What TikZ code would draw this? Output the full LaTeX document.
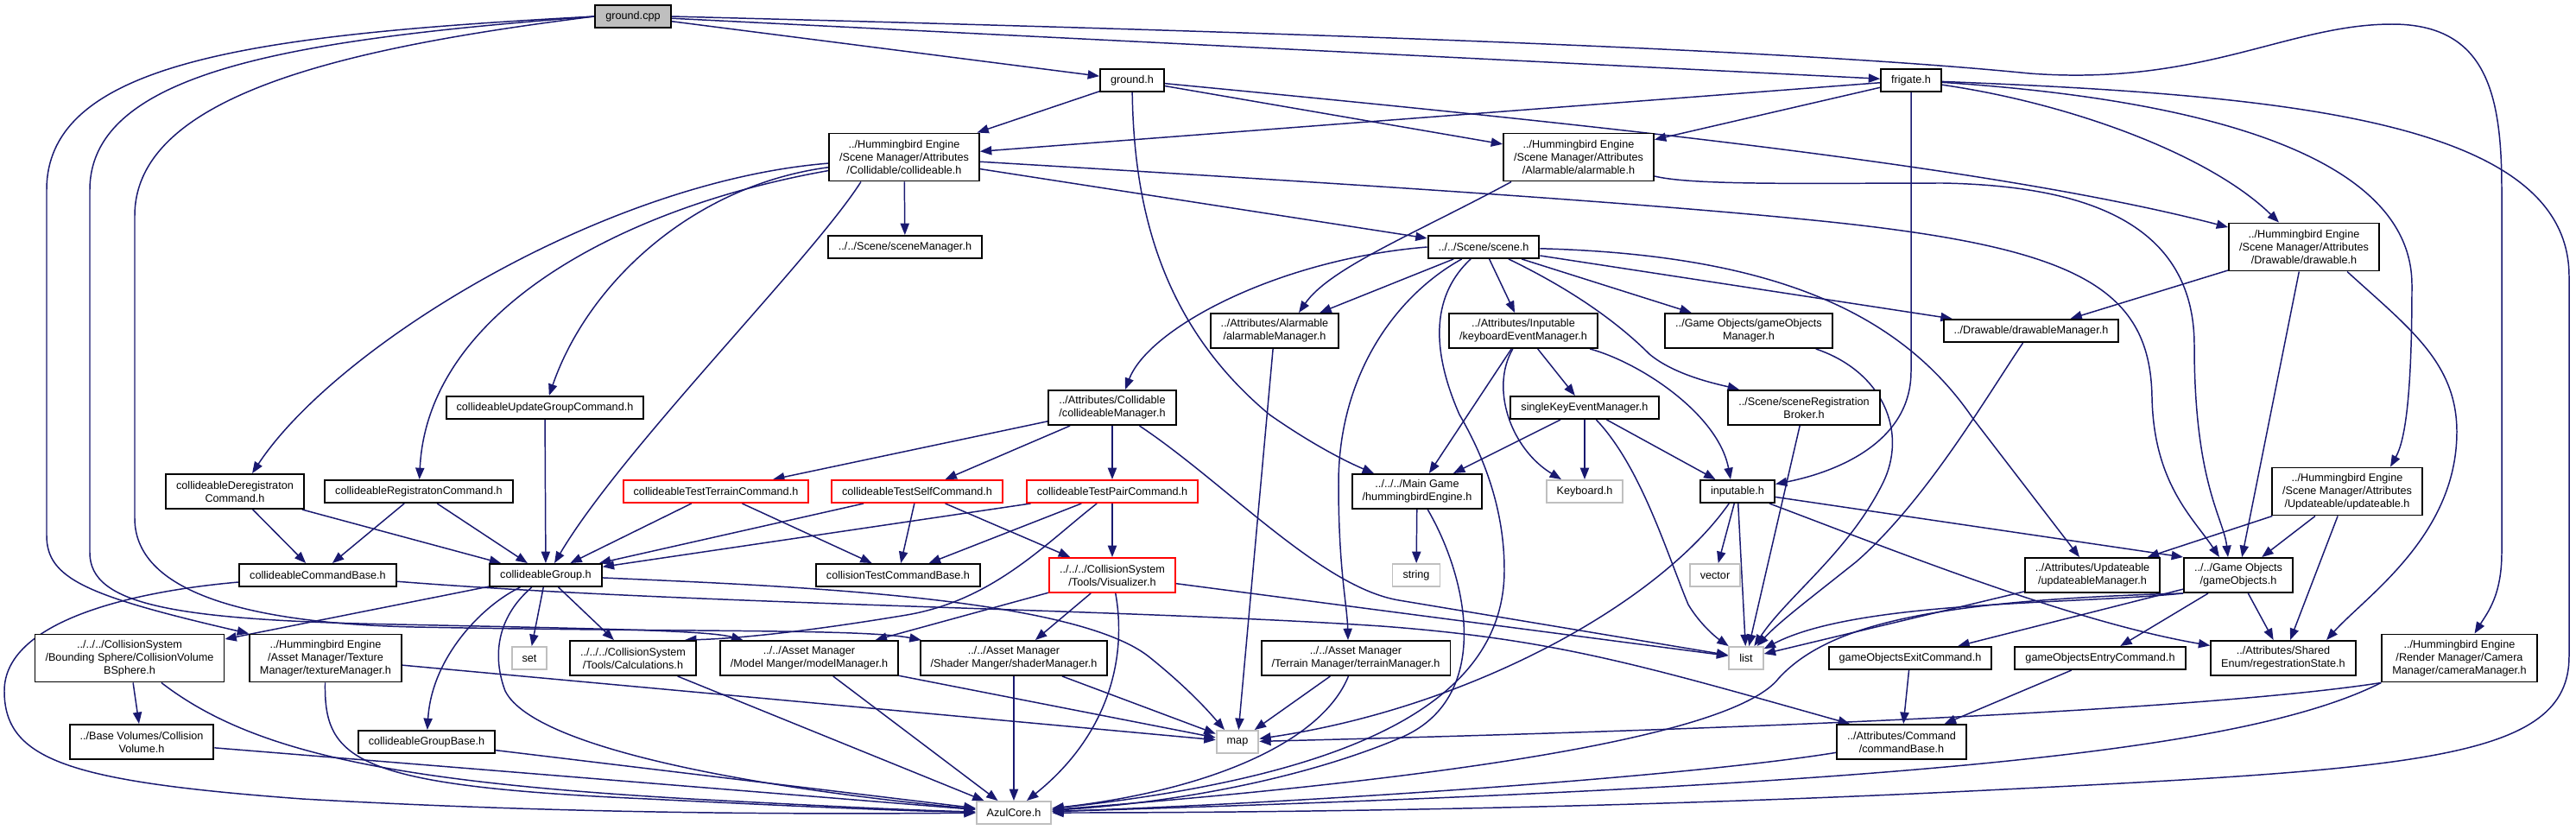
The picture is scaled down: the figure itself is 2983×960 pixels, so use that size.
\documentclass[tikz,border=0pt]{standalone}
\usepackage{fontspec}
\setmainfont{Liberation Sans}
\usetikzlibrary{arrows.meta,backgrounds}
\definecolor{edgeblue}{HTML}{191970}
\definecolor{sysgray}{HTML}{BFBFBF}

\begin{document}
\begin{tikzpicture}[x=0.01cm, y=-0.01cm, >={Triangle[length=3.8pt, width=2.9pt]},
    hdr/.style={draw=black, line width=0.55pt, fill=white, inner xsep=0.12cm, inner ysep=0pt,
      align=center, font=\fontsize{3.6}{4.27}\selectfont},
    sys/.style={hdr, draw=sysgray},
    trunc/.style={hdr, draw=red},
    src/.style={hdr, fill=sysgray},
    oneline/.style={minimum height=0.26cm},
    twoline/.style={minimum height=0.40cm},
    threeline/.style={minimum height=0.55cm},
    dep/.style={->, draw=edgeblue, line width=0.42pt}]
    \useasboundingbox (0,0) rectangle (2983,960);

    % Source file and direct includes
    \node[src, oneline] (GroundCpp) at (733,19) {ground.cpp};
    \node[hdr, oneline] (GroundH) at (1311,93) {ground.h};
    \node[hdr, oneline] (Frigate) at (2213,93) {frigate.h};

    % Attributes
    \node[hdr, threeline] (Collid) at (1047,182) {../Hummingbird Engine\\/Scene Manager/Attributes\\/Collidable/collideable.h};
    \node[hdr, threeline] (Alarm) at (1828,182) {../Hummingbird Engine\\/Scene Manager/Attributes\\/Alarmable/alarmable.h};
    \node[hdr, threeline] (Draw) at (2668,286) {../Hummingbird Engine\\/Scene Manager/Attributes\\/Drawable/drawable.h};
    \node[hdr, oneline] (SceneMgr) at (1048,286) {../../Scene/sceneManager.h};
    \node[hdr, oneline] (Scene) at (1718,286) {../../Scene/scene.h};

    % Managers
    \node[hdr, twoline] (AlarmMgr) at (1476,383) {../Attributes/Alarmable\\/alarmableManager.h};
    \node[hdr, twoline] (KbMgr) at (1764,383) {../Attributes/Inputable\\/keyboardEventManager.h};
    \node[hdr, twoline] (GoMgr) at (2025,383) {../Game Objects/gameObjects\\Manager.h};
    \node[hdr, oneline] (DrawMgr) at (2352,383) {../Drawable/drawableManager.h};
    \node[hdr, oneline] (UpdGroup) at (631,472) {collideableUpdateGroupCommand.h};
    \node[hdr, twoline] (CollMgr) at (1288,472) {../Attributes/Collidable\\/collideableManager.h};
    \node[hdr, oneline] (SingleKey) at (1835,472) {singleKeyEventManager.h};
    \node[hdr, twoline] (Broker) at (2089,472) {../Scene/sceneRegistration\\Broker.h};

    % Commands
    \node[hdr, twoline] (Dereg) at (272,569) {collideableDeregistraton\\Command.h};
    \node[hdr, oneline] (Reg) at (485,569) {collideableRegistratonCommand.h};
    \node[trunc, oneline] (TestTerrain) at (829,569) {collideableTestTerrainCommand.h};
    \node[trunc, oneline] (TestSelf) at (1062,569) {collideableTestSelfCommand.h};
    \node[trunc, oneline] (TestPair) at (1288,569) {collideableTestPairCommand.h};
    \node[hdr, twoline] (HbEngine) at (1641,569) {../../../Main Game\\/hummingbirdEngine.h};
    \node[sys, oneline] (Keyboard) at (1835,569) {Keyboard.h};
    \node[hdr, oneline] (Inputable) at (2012,569) {inputable.h};
    \node[hdr, threeline] (Updateable) at (2718,569) {../Hummingbird Engine\\/Scene Manager/Attributes\\/Updateable/updateable.h};

    % Bases
    \node[hdr, oneline] (CmdBase) at (368,666) {collideableCommandBase.h};
    \node[hdr, oneline] (CGroup) at (632,666) {collideableGroup.h};
    \node[hdr, oneline] (TestBase) at (1040,666) {collisionTestCommandBase.h};
    \node[trunc, twoline] (Visual) at (1288,666) {../../../CollisionSystem\\/Tools/Visualizer.h};
    \node[sys, oneline] (String) at (1640,666) {string};
    \node[sys, oneline] (Vector) at (1986,666) {vector};
    \node[hdr, twoline] (UpdMgr) at (2423,666) {../Attributes/Updateable\\/updateableManager.h};
    \node[hdr, twoline] (GameObj) at (2592,666) {../../Game Objects\\/gameObjects.h};

    % Systems
    \node[hdr, threeline] (BSphere) at (150,762) {../../../CollisionSystem\\/Bounding Sphere/CollisionVolume\\BSphere.h};
    \node[hdr, threeline] (TextureMgr) at (377,762) {../Hummingbird Engine\\/Asset Manager/Texture\\Manager/textureManager.h};
    \node[sys, oneline] (Set) at (613,762) {set};
    \node[hdr, twoline] (Calc) at (733,762) {../../../CollisionSystem\\/Tools/Calculations.h};
    \node[hdr, twoline] (ModelMgr) at (937,762) {../../Asset Manager\\/Model Manger/modelManager.h};
    \node[hdr, twoline] (ShaderMgr) at (1174,762) {../../Asset Manager\\/Shader Manger/shaderManager.h};
    \node[hdr, twoline] (TerrainMgr) at (1570,762) {../../Asset Manager\\/Terrain Manager/terrainManager.h};
    \node[sys, oneline] (List) at (2022,762) {list};
    \node[hdr, oneline] (GoExit) at (2212,762) {gameObjectsExitCommand.h};
    \node[hdr, oneline] (GoEntry) at (2432,762) {gameObjectsEntryCommand.h};
    \node[hdr, twoline] (RegState) at (2644,762) {../Attributes/Shared\\Enum/regestrationState.h};
    \node[hdr, threeline] (CameraMgr) at (2848,762) {../Hummingbird Engine\\/Render Manager/Camera\\Manager/cameraManager.h};

    % Bottom rows
    \node[hdr, twoline] (CollVol) at (164,859) {../Base Volumes/Collision\\Volume.h};
    \node[hdr, oneline] (CGroupBase) at (494,859) {collideableGroupBase.h};
    \node[sys, oneline] (Map) at (1433,859) {map};
    \node[hdr, twoline] (CmdBaseH) at (2202,859) {../Attributes/Command\\/commandBase.h};
    \node[sys, oneline] (Azul) at (1174,941) {AzulCore.h};

    \begin{scope}[on background layer]
    % Short includes
    \foreach \a/\b in {GroundCpp/GroundH, GroundCpp/Frigate, GroundH/Collid, GroundH/Alarm,
        Frigate/Collid, Frigate/Alarm, Collid/SceneMgr, Collid/Scene, Draw/DrawMgr, Draw/GameObj,
        Scene/AlarmMgr, Scene/KbMgr, Scene/GoMgr, Scene/DrawMgr, AlarmMgr/Map,
        KbMgr/HbEngine, KbMgr/SingleKey, SingleKey/HbEngine, SingleKey/Keyboard, SingleKey/Inputable,
        Broker/List, CollMgr/TestTerrain, CollMgr/TestSelf, CollMgr/TestPair, UpdGroup/CGroup,
        Dereg/CmdBase, Dereg/CGroup, Reg/CmdBase, Reg/CGroup, TestTerrain/CGroup, TestTerrain/TestBase,
        TestSelf/CGroup, TestSelf/TestBase, TestSelf/Visual, TestPair/CGroup, TestPair/TestBase,
        TestPair/Visual, HbEngine/String, Inputable/Vector, Inputable/List,
        Updateable/UpdMgr, Updateable/GameObj, Updateable/RegState, CGroup/BSphere, CGroup/Set,
        CGroup/Calc, Visual/ModelMgr, Visual/ShaderMgr, Visual/List, UpdMgr/List, GameObj/GoExit,
        GameObj/GoEntry, GameObj/RegState, BSphere/CollVol, TextureMgr/Map, Calc/Azul, ModelMgr/Azul,
        ModelMgr/Map, ShaderMgr/Azul, ShaderMgr/Map, TerrainMgr/Map, GoExit/CmdBaseH, GoEntry/CmdBaseH,
        CollVol/Azul, CGroupBase/Azul}
        \draw[dep] (\a) -- (\b);
    \draw[dep] (Inputable) -- (GameObj.north west);

    % ground.cpp
    \draw[dep] (GroundCpp.east) .. controls (1600,40) and (2100,60) .. (2350,85)
        .. controls (2550,100) and (2650,28) .. (2770,28)
        .. controls (2880,28) and (2897,110) .. (2897,220) -- (2897,640)
        .. controls (2897,690) and (2880,710) .. (CameraMgr);
    \draw[dep] (GroundCpp.west) .. controls (300,40) and (54,70) .. (54,220) -- (54,620)
        .. controls (54,670) and (100,690) .. (TextureMgr.north west);
    \draw[dep] (GroundCpp.west) .. controls (350,45) and (104,80) .. (104,220) -- (104,640)
        .. controls (104,700) and (200,718) .. (460,723) .. controls (700,728) and (820,730) .. (ModelMgr);
    \draw[dep] (GroundCpp.west) .. controls (400,55) and (156,110) .. (156,250) -- (156,600)
        .. controls (156,690) and (300,722) .. (480,726) .. controls (800,732) and (1000,728) .. (ShaderMgr);

    % ground.h and frigate.h
    \draw[dep] (GroundH) .. controls (1800,140) and (2300,190) .. (Draw);
    \draw[dep] (GroundH) .. controls (1313,250) and (1350,380) .. (1470,480)
        .. controls (1520,515) and (1560,535) .. (HbEngine);
    \draw[dep] (Frigate) .. controls (2400,120) and (2560,180) .. (Draw);
    \draw[dep] (Frigate) .. controls (2550,115) and (2793,180) .. (2793,330)
        .. controls (2793,460) and (2785,510) .. ([xshift=5mm]Updateable.north);
    \draw[dep] (Frigate) -- (2213,430) .. controls (2213,520) and (2110,550) .. (Inputable);
    \draw[dep] (Frigate) .. controls (2650,110) and (2975,140) .. (2975,320) -- (2975,760)
        .. controls (2975,880) and (2800,890) .. (2300,915) .. controls (1900,935) and (1500,941) .. (Azul);

    % collideable.h, alarmable.h, drawable.h
    \draw[dep] (Collid) .. controls (700,210) and (390,400) .. ([xshift=2mm]Dereg.north);
    \draw[dep] (Collid) .. controls (800,215) and (680,330) .. (UpdGroup);
    \draw[dep] (Collid) .. controls (720,240) and (495,360) .. (Reg);
    \draw[dep] ([xshift=-5mm]Collid.south) .. controls (940,300) and (720,520) .. ([xshift=1mm]CGroup.north);
    \draw[dep] (Collid) .. controls (1600,215) and (1900,235) .. (2100,255)
        .. controls (2400,285) and (2490,330) .. (2492,460)
        .. controls (2494,560) and (2540,600) .. ([xshift=-2.2mm]GameObj.north);
    \draw[dep] ([xshift=1mm]Alarm.south west) .. controls (1640,270) and (1540,310) .. ([xshift=2.8mm]AlarmMgr.north);
    \draw[dep] (Alarm) .. controls (1960,215) and (2100,212) .. (2250,212)
        .. controls (2400,215) and (2541,250) .. (2541,400)
        .. controls (2541,560) and (2575,600) .. ([xshift=-1.2mm]GameObj.north);
    \draw[dep] ([xshift=5mm]Draw.south) .. controls (2790,380) and (2845,420) .. (2845,500)
        .. controls (2845,620) and (2740,690) .. ([xshift=5mm]RegState.north);

    % scene.h
    \draw[dep] (Scene.west) .. controls (1480,300) and (1330,380) .. ([xshift=1.5mm]CollMgr.north);
    \draw[dep] (Scene) .. controls (1620,340) and (1550,430) .. (1550,560)
        .. controls (1550,660) and (1560,700) .. ([xshift=-0.9mm]TerrainMgr.north);
    \draw[dep] (Scene) .. controls (1660,340) and (1655,400) .. (1690,480)
        .. controls (1725,540) and (1742,600) .. (1742,660)
        .. controls (1742,820) and (1550,900) .. (Azul);
    \draw[dep] (Scene) .. controls (1830,340) and (1880,380) .. (1910,410)
        .. controls (1940,435) and (1990,445) .. ([xshift=-7.5mm]Broker.north);
    \draw[dep] (Scene) .. controls (2050,295) and (2200,360) .. (2285,485) -- ([xshift=-1.5mm]UpdMgr.north);

    % managers
    \draw[dep] (KbMgr) .. controls (1725,450) and (1750,520) .. ([xshift=-2.7mm]Keyboard.north);
    \draw[dep] (KbMgr) .. controls (1900,420) and (1990,480) .. ([xshift=-0.8mm]Inputable.north);
    \draw[dep] ([xshift=-2mm]GoMgr.south east) .. controls (2180,430) and (2210,500) .. (2180,560)
        .. controls (2140,640) and (2070,690) .. (List);
    \draw[dep] (DrawMgr) .. controls (2300,460) and (2230,580) .. (2150,650)
        .. controls (2100,690) and (2060,720) .. (List);
    \draw[dep] (CollMgr) .. controls (1420,560) and (1530,680) .. (1620,695) -- (List);
    \draw[dep] (SingleKey) .. controls (1900,540) and (1930,640) .. (1955,700)
        .. controls (1970,725) and (1990,740) .. (List);
    \draw[dep] (TestPair) .. controls (1210,630) and (1150,695) .. (1050,712)
        .. controls (900,737) and (830,740) .. ([xshift=6mm]Calc.north);
    \draw[dep] (HbEngine) .. controls (1700,670) and (1730,810) .. (1620,855)
        .. controls (1500,905) and (1350,930) .. (Azul);
    \draw[dep] (Inputable) .. controls (1920,700) and (1700,820) .. (Map);
    \draw[dep] (Inputable) .. controls (2200,640) and (2400,720) .. (RegState);

    % bases
    \draw[dep] (CmdBase) .. controls (150,685) and (5,720) .. (5,800)
        .. controls (5,880) and (80,905) .. (350,925) .. controls (700,945) and (1000,942) .. (Azul);
    \draw[dep] (CmdBase) .. controls (800,700) and (1300,705) .. (1600,725)
        .. controls (1800,740) and (1900,770) .. ([xshift=-6mm]CmdBaseH.north);
    \draw[dep] (CGroup) .. controls (560,700) and (500,760) .. (CGroupBase);
    \draw[dep] (CGroup) .. controls (575,715) and (570,760) .. (585,800)
        .. controls (620,870) and (900,915) .. (Azul);
    \draw[dep] (CGroup) .. controls (900,678) and (1240,690) .. (1330,760)
        .. controls (1380,800) and (1405,830) .. ([xshift=-1.5mm]Map.north);
    \draw[dep] (Visual) .. controls (1305,760) and (1285,850) .. ([xshift=1.5mm]Azul.north);
    \draw[dep] (GameObj.south west) .. controls (2400,700) and (2150,695) .. (List);
    \draw[dep] (GameObj.south west) .. controls (2250,695) and (2120,720) .. (2060,785)
        .. controls (2010,850) and (1700,900) .. (Azul);

    % systems into AzulCore and map
    \draw[dep] (BSphere) .. controls (290,870) and (450,905) .. (800,925)
        .. controls (950,933) and (1050,938) .. (Azul);
    \draw[dep] (TextureMgr) .. controls (375,880) and (410,910) .. (750,925)
        .. controls (950,935) and (1050,939) .. (Azul);
    \draw[dep] (TerrainMgr) .. controls (1530,860) and (1400,915) .. (Azul);
    \draw[dep] (CameraMgr.south west) .. controls (2600,815) and (2200,840) .. (Map);
    \draw[dep] (CameraMgr.south west) .. controls (2600,870) and (2200,910) .. (Azul);
    \draw[dep] (CmdBaseH) .. controls (1950,900) and (1500,930) .. (Azul);
    \end{scope}
\end{tikzpicture}
\end{document}
